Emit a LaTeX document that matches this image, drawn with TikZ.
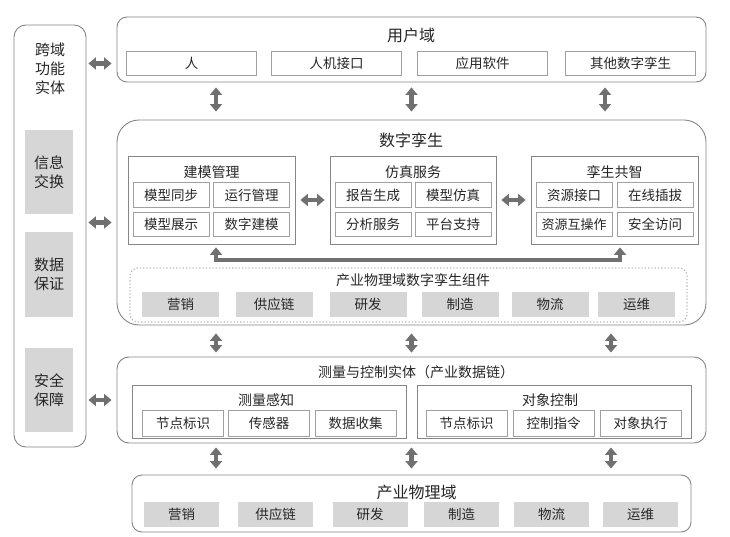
\documentclass[tikz,border=0pt]{standalone}
\usepackage{fontspec}
\setmainfont{Noto Sans CJK SC}
\usepackage{tikz}
\usetikzlibrary{arrows.meta,positioning,calc}
\definecolor{linegray}{HTML}{858585}
\definecolor{itemgray}{HTML}{A0A0A0}
\definecolor{fillgray}{HTML}{D6D6D6}
\definecolor{arrowgray}{HTML}{707070}
\definecolor{dotgray}{HTML}{BBBBBB}
\definecolor{textgray}{HTML}{262626}

\begin{document}
\begin{tikzpicture}[x=1pt,y=-1pt,
  zonebox/.style={draw=linegray,line width=0.9pt,rounded corners=10pt,inner sep=0pt},
  grpbox/.style={draw=linegray,line width=0.8pt,inner sep=0pt},
  itembox/.style={draw=itemgray,line width=0.8pt,minimum width=76pt,minimum height=24.5pt,inner sep=0pt,text=textgray,font=\fontsize{13.5}{16}\selectfont},
  graybox/.style={fill=fillgray,minimum width=77pt,minimum height=25pt,inner sep=0pt,text=textgray,font=\fontsize{13.5}{16}\selectfont},
  zonetitle/.style={text=textgray,font=\fontsize{16}{18}\selectfont},
  grptitle/.style={text=textgray,font=\fontsize{14}{16}\selectfont},
  dblarrow/.style={draw=arrowgray,line width=4.5pt,>={Triangle[length=7.5pt,width=12pt]},<->}]
\useasboundingbox (0,0) rectangle (730,537);

% cross-domain column
\node[zonebox,rounded corners=12pt,minimum width=72pt,minimum height=422pt] (cross) at (50,236) {};
\node[text=textgray,font=\fontsize{15}{19}\selectfont,align=center] (crosstitle) at (50,69) {跨域\\功能\\实体};
\node[graybox,minimum width=48pt,minimum height=84pt,align=center,font=\fontsize{15}{19}\selectfont] (exchange) at (49,172) {信息\\交换};
\node[graybox,minimum width=48pt,minimum height=85pt,align=center,font=\fontsize{15}{19}\selectfont] (assure) at (49,274.5) {数据\\保证};
\node[graybox,minimum width=48pt,minimum height=84pt,align=center,font=\fontsize{15}{19}\selectfont] (security) at (49,390) {安全\\保障};

% user domain
\node[zonebox,minimum width=589pt,minimum height=65pt] (user) at (411.5,49.5) {};
\node[zonetitle] (usertitle) at (411,35) {用户域};
\foreach \cx/\txt/\nm in {191.5/人/human,336.5/人机接口/hmi,482.5/应用软件/software,630.5/其他数字孪生/othertwin}
  \node[itembox,minimum width=130pt] (\nm) at (\cx,63.5) {\txt};

% digital twin
\node[zonebox,rounded corners=22pt,minimum width=589pt,minimum height=205pt] (twin) at (411.5,222.5) {};
\node[zonetitle] (twintitle) at (411,140) {数字孪生};
\node[grpbox,minimum width=167pt,minimum height=88pt] (modeling) at (211.5,200) {};
\node[grptitle] at (211.5,172) {建模管理};
\node[itembox] (msync) at (171,195) {模型同步};
\node[itembox] (mrun) at (251.5,195) {运行管理};
\node[itembox] (mshow) at (171,224.5) {模型展示};
\node[itembox] (mbuild) at (251.5,224.5) {数字建模};
\node[grpbox,minimum width=166pt,minimum height=88pt] (simulation) at (413,200) {};
\node[grptitle] at (413,172) {仿真服务};
\node[itembox] (sreport) at (373,195) {报告生成};
\node[itembox] (ssim) at (453,195) {模型仿真};
\node[itembox] (sanalysis) at (373,224.5) {分析服务};
\node[itembox] (splatform) at (453,224.5) {平台支持};
\node[grpbox,minimum width=167pt,minimum height=88pt] (cowisdom) at (614.5,200) {};
\node[grptitle] at (614.5,172) {孪生共智};
\node[itembox] (cinterface) at (574,195) {资源接口};
\node[itembox] (cplug) at (655,195) {在线插拔};
\node[itembox,font=\fontsize{13}{16}\selectfont] (cinterop) at (574,224.5) {资源互操作};
\node[itembox] (caccess) at (655,224.5) {安全访问};
\draw[dblarrow,shorten <=5pt,shorten >=5pt] (modeling) -- (simulation);
\draw[dblarrow,shorten <=5pt,shorten >=5pt] (simulation) -- (cowisdom);
\coordinate (bendleft) at (216,260);
\coordinate (bendright) at (620,260);
\draw[dblarrow,line width=4.5pt,shorten <=3pt,shorten >=3pt] (modeling.south -| bendleft) -- (bendleft) -- (bendright) -- (cowisdom.south -| bendright);
\node[draw=dotgray,dotted,line width=1.3pt,rounded corners=8pt,minimum width=557pt,minimum height=54pt,inner sep=0pt] (component) at (408.5,295) {};
\node[grptitle] at (413,280) {产业物理域数字孪生组件};
\foreach \cx/\txt in {180.5/营销,274/供应链,368/研发,460/制造,550/物流,636.5/运维}
  \node[graybox] at (\cx,304.5) {\txt};

% measurement and control
\node[zonebox,rounded corners=12pt,minimum width=589pt,minimum height=86pt] (measure) at (411.5,400) {};
\node[grptitle] (measuretitle) at (416,372) {测量与控制实体（产业数据链）};
\node[grpbox,minimum width=274pt,minimum height=53pt] (sensing) at (269,411.5) {};
\node[grptitle] at (266,400) {测量感知};
\foreach \cx/\txt in {183/节点标识,269/传感器,355.5/数据收集}
  \node[itembox,minimum width=81pt,minimum height=26pt] at (\cx,423) {\txt};
\node[grpbox,minimum width=274pt,minimum height=53pt] (control) at (554,411.5) {};
\node[grptitle] at (550,400) {对象控制};
\foreach \cx/\txt in {466.5/节点标识,553.5/控制指令,640.5/对象执行}
  \node[itembox,minimum width=81pt,minimum height=26pt] at (\cx,423) {\txt};

% industrial physical domain
\node[zonebox,minimum width=559pt,minimum height=57pt] (physical) at (411.5,503.5) {};
\node[zonetitle] (physicaltitle) at (416.5,492) {产业物理域};
\foreach \cx/\txt in {181.5/营销,275.5/供应链,370/研发,461.5/制造,551.5/物流,640.5/运维}
  \node[graybox,minimum width=75pt] at (\cx,514.5) {\txt};

% connectors
\coordinate (colA) at (216,0);
\coordinate (colB) at (411.5,0);
\coordinate (colC) at (605,0);
\coordinate (colD) at (611,0);
\draw[dblarrow,shorten <=2pt,shorten >=5pt] (cross.east |- human) -- (user.west |- human);
\draw[dblarrow,shorten <=2pt,shorten >=5pt] (cross.east |- twin) -- (twin.west);
\draw[dblarrow,shorten <=2pt,shorten >=5pt] (cross.east |- measure) -- (measure.west);
\foreach \c in {colA,colB,colC}
  \draw[dblarrow,shorten <=5pt,shorten >=8pt] (user.south -| \c) -- (twin.north -| \c);
\foreach \c in {colA,colB,colD}
  \draw[dblarrow,shorten <=8pt,shorten >=4pt] (twin.south -| \c) -- (measure.north -| \c);
\foreach \c in {colA,colB,colD}
  \draw[dblarrow,shorten <=4pt,shorten >=6pt] (measure.south -| \c) -- (physical.north -| \c);
\end{tikzpicture}
\end{document}
